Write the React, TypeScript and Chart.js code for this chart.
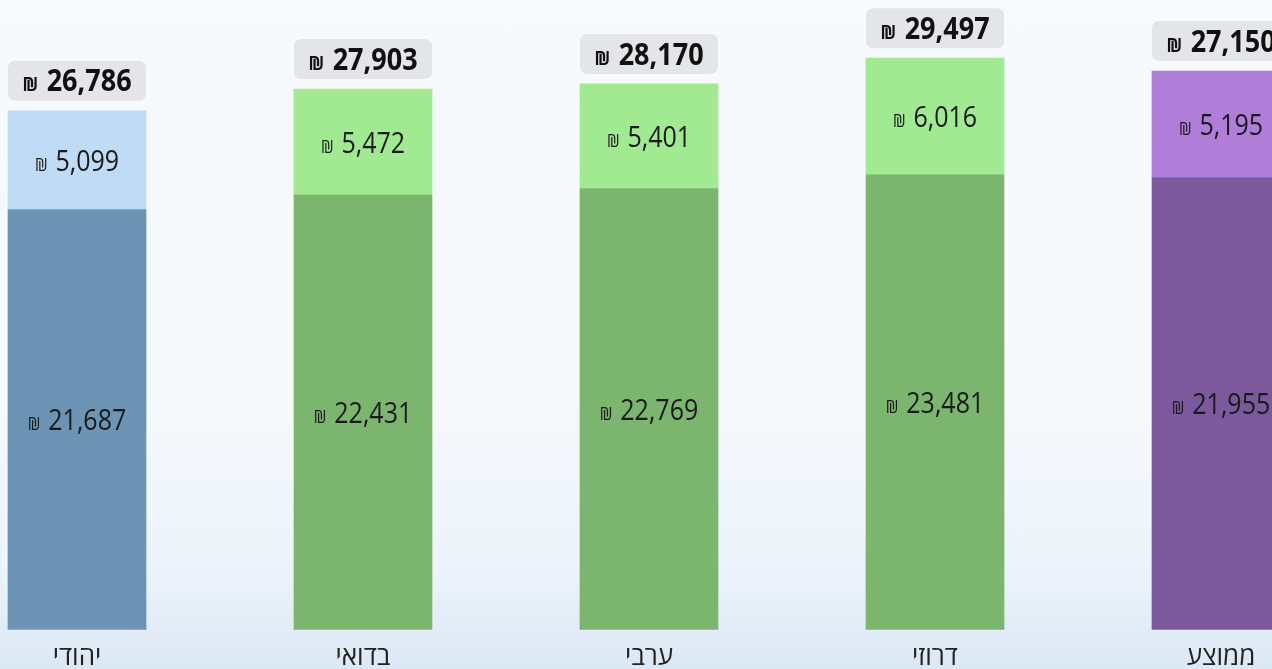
import React, { useEffect, useRef } from "react";
import { Chart, registerables } from "chart.js";

Chart.register(...registerables);

const categories = ["יהודי", "בדואי", "ערבי", "דרוזי", "ממוצע"];
const baseValues = [21687, 22431, 22769, 23481, 21955];
const topValues = [5099, 5472, 5401, 6016, 5195];
const totalValues = [26786, 27903, 28170, 29497, 27150];
const baseColors = ["#6d93b5", "#7cb56e", "#7cb56e", "#7cb56e", "#7b599c"];
const topColors = ["#bfdbf5", "#a2ea92", "#a2ea92", "#a2ea92", "#b07dd9"];
const averageIndex = 4; // the "ממוצע" bar is drawn on its own value scale

const FONT = '"Open Sans", "Noto Sans", "DejaVu Sans", sans-serif';

function drawShekel(
  ctx: CanvasRenderingContext2D,
  cx: number,
  cy: number,
  value: number,
  size: number,
  bold: boolean,
  stretch: number
) {
  const num = value.toLocaleString("en-US");
  const weight = bold ? "700" : "400";
  const symSize = Math.round(size * 0.62);
  ctx.save();
  ctx.translate(cx, cy);
  ctx.scale(1, stretch);
  ctx.font = `${weight} ${symSize}px ${FONT}`;
  const sw = ctx.measureText("₪").width;
  ctx.font = `${weight} ${size}px ${FONT}`;
  const nw = ctx.measureText(num).width;
  const gap = size * 0.32;
  const total = sw + gap + nw;
  const x = -total / 2;
  const baseline = size * 0.357;
  ctx.textAlign = "left";
  ctx.textBaseline = "alphabetic";
  ctx.font = `${weight} ${symSize}px ${FONT}`;
  ctx.fillText("₪", x, baseline);
  ctx.font = `${weight} ${size}px ${FONT}`;
  ctx.fillText(num, x + sw + gap, baseline);
  ctx.restore();
}

const labelPlugin = {
  id: "valueLabels",
  afterDatasetsDraw(chart: any) {
    const ctx: CanvasRenderingContext2D = chart.ctx;
    ctx.save();
    chart.data.datasets.forEach((ds: any, di: number) => {
      const meta = chart.getDatasetMeta(di);
      meta.data.forEach((el: any, i: number) => {
        const v = ds.data[i];
        if (v === null || v === undefined) return;
        const { x, y, base } = el.getProps(["x", "y", "base"], true);
        ctx.fillStyle = "#1a1a1a";
        drawShekel(ctx, x, (y + base) / 2, v, 25, false, 1.17);
      });
    });
    // total boxes above the upper segments (datasets 1 and 3)
    [1, 3].forEach((di) => {
      const ds = chart.data.datasets[di];
      const meta = chart.getDatasetMeta(di);
      meta.data.forEach((el: any, i: number) => {
        const v = ds.data[i];
        if (v === null || v === undefined) return;
        const { x, y, width } = el.getProps(["x", "y", "width"], true);
        const h = 40;
        const bottom = y - 10;
        ctx.fillStyle = "#e3e5e9";
        ctx.beginPath();
        (ctx as any).roundRect(x - width / 2, bottom - h, width, h, 7);
        ctx.fill();
        ctx.fillStyle = "#111111";
        drawShekel(ctx, x, bottom - h / 2, totalValues[i], 27, true, 1.1);
      });
    });
    ctx.restore();
  },
};

export default function App() {
  const canvasRef = useRef<HTMLCanvasElement | null>(null);

  useEffect(() => {
    if (!canvasRef.current) return;
    const groupOnly = (arr: number[]) => arr.map((v, i) => (i === averageIndex ? null : v));
    const averageOnly = (arr: number[]) => arr.map((v, i) => (i === averageIndex ? v : null));
    const common = { barThickness: 138, stack: "s", skipNull: true };
    const chart = new Chart(canvasRef.current, {
      type: "bar",
      data: {
        labels: categories,
        datasets: [
          { ...common, data: groupOnly(baseValues), backgroundColor: baseColors, yAxisID: "y" },
          { ...common, data: groupOnly(topValues), backgroundColor: topColors, yAxisID: "y" },
          { ...common, data: averageOnly(baseValues), backgroundColor: baseColors, yAxisID: "y2" },
          { ...common, data: averageOnly(topValues), backgroundColor: topColors, yAxisID: "y2" },
        ] as any,
      },
      options: {
        responsive: true,
        maintainAspectRatio: false,
        animation: false,
        layout: { padding: 0 },
        plugins: {
          legend: { display: false },
          tooltip: { enabled: false },
        },
        scales: {
          x: {
            stacked: true,
            grid: { display: false, drawTicks: false },
            border: { display: false },
            ticks: {
              color: "#222222",
              padding: 12,
              font: { size: 26, family: FONT },
            },
          },
          y: {
            stacked: true,
            display: false,
            min: 0,
            max: 32500,
          },
          y2: {
            stacked: true,
            display: false,
            min: 0,
            max: 30600,
          },
        },
      },
      plugins: [labelPlugin],
    });
    return () => chart.destroy();
  }, []);

  return (
    <div
      style={{
        position: "fixed",
        left: 0,
        top: 0,
        width: 1272,
        height: 669,
        overflow: "hidden",
        background:
          "linear-gradient(to bottom, #f7f9fc 0%, #f6f9fc 60%, #ecf3fa 85%, #dbe8f5 100%)",
      }}
    >
      <div
        style={{
          position: "absolute",
          left: -66,
          top: 0,
          width: 1430,
          height: 685,
        }}
      >
        <canvas ref={canvasRef} />
      </div>
    </div>
  );
}
